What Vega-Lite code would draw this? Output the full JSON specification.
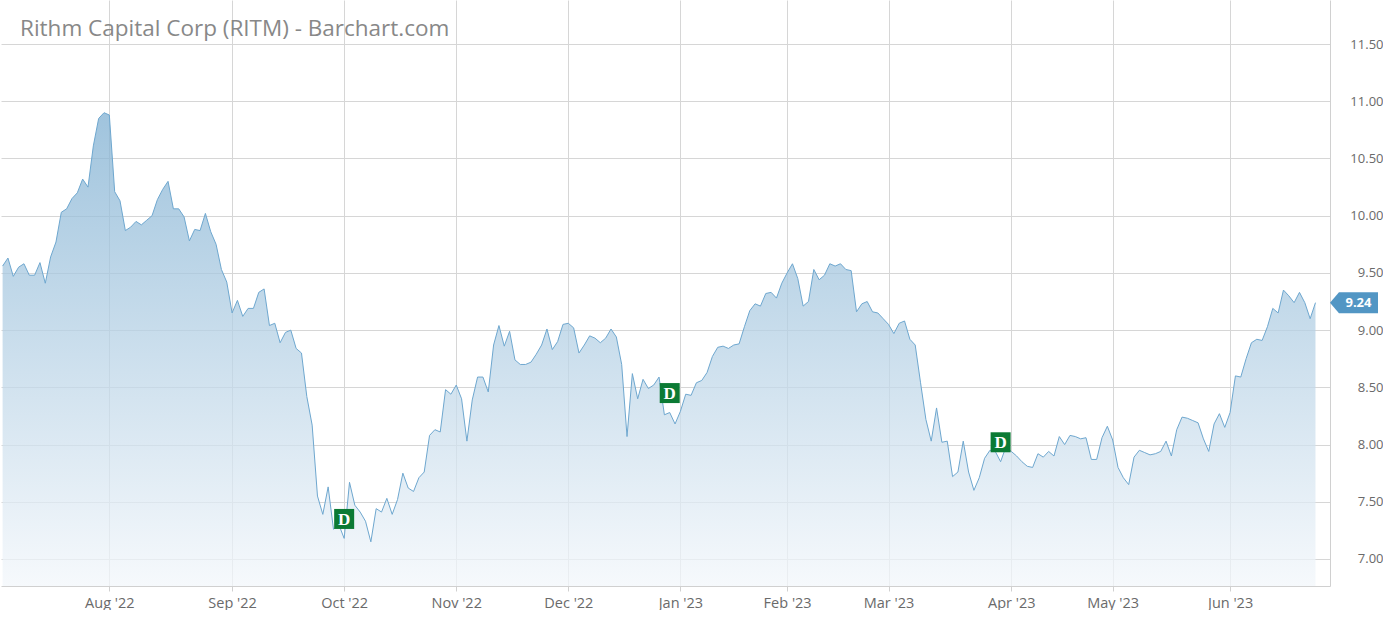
{
"$schema": "https://vega.github.io/schema/vega-lite/v6.json",
"width": 1329, "height": 586, "autosize": {"type": "pad"}, "padding": 0,
"background": "white",
"config": {"view": {"stroke": null}, "font": "Open Sans"},
"title": {"text": "Rithm Capital Corp (RITM) - Barchart.com", "anchor": "start", "frame": "group", "fontSize": 22.5, "fontWeight": "normal", "color": "#888888", "font": "Open Sans", "baseline": "alphabetic", "offset": 0, "dx": 19, "dy": 58},
"datasets": {
"px": [
{"i":0,"close":9.56},{"i":1,"close":9.63},{"i":2,"close":9.47},{"i":3,"close":9.55},{"i":4,"close":9.58},{"i":5,"close":9.48},{"i":6,"close":9.48},{"i":7,"close":9.59},{"i":8,"close":9.41},{"i":9,"close":9.64},
{"i":10,"close":9.77},{"i":11,"close":10.03},{"i":12,"close":10.06},{"i":13,"close":10.15},{"i":14,"close":10.20},{"i":15,"close":10.32},{"i":16,"close":10.25},{"i":17,"close":10.61},{"i":18,"close":10.85},{"i":19,"close":10.90},
{"i":20,"close":10.88},{"i":21,"close":10.21},{"i":22,"close":10.13},{"i":23,"close":9.87},{"i":24,"close":9.90},{"i":25,"close":9.95},{"i":26,"close":9.92},{"i":27,"close":9.96},{"i":28,"close":10.00},{"i":29,"close":10.14},
{"i":30,"close":10.23},{"i":31,"close":10.30},{"i":32,"close":10.06},{"i":33,"close":10.06},{"i":34,"close":9.99},{"i":35,"close":9.78},{"i":36,"close":9.88},{"i":37,"close":9.87},{"i":38,"close":10.02},{"i":39,"close":9.86},
{"i":40,"close":9.75},{"i":41,"close":9.53},{"i":42,"close":9.42},{"i":43,"close":9.15},{"i":44,"close":9.26},{"i":45,"close":9.12},{"i":46,"close":9.19},{"i":47,"close":9.19},{"i":48,"close":9.33},{"i":49,"close":9.36},
{"i":50,"close":9.04},{"i":51,"close":9.06},{"i":52,"close":8.89},{"i":53,"close":8.98},{"i":54,"close":9.00},{"i":55,"close":8.84},{"i":56,"close":8.80},{"i":57,"close":8.42},{"i":58,"close":8.17},{"i":59,"close":7.55},
{"i":60,"close":7.39},{"i":61,"close":7.63},{"i":62,"close":7.26},{"i":63,"close":7.30},{"i":64,"close":7.18},{"i":65,"close":7.67},{"i":66,"close":7.47},{"i":67,"close":7.41},{"i":68,"close":7.33},{"i":69,"close":7.15},
{"i":70,"close":7.44},{"i":71,"close":7.41},{"i":72,"close":7.53},{"i":73,"close":7.39},{"i":74,"close":7.52},{"i":75,"close":7.75},{"i":76,"close":7.62},{"i":77,"close":7.59},{"i":78,"close":7.71},{"i":79,"close":7.76},
{"i":80,"close":8.08},{"i":81,"close":8.13},{"i":82,"close":8.11},{"i":83,"close":8.48},{"i":84,"close":8.44},{"i":85,"close":8.52},{"i":86,"close":8.40},{"i":87,"close":8.03},{"i":88,"close":8.39},{"i":89,"close":8.59},
{"i":90,"close":8.59},{"i":91,"close":8.46},{"i":92,"close":8.87},{"i":93,"close":9.04},{"i":94,"close":8.86},{"i":95,"close":8.99},{"i":96,"close":8.74},{"i":97,"close":8.70},{"i":98,"close":8.70},{"i":99,"close":8.72},
{"i":100,"close":8.79},{"i":101,"close":8.87},{"i":102,"close":9.01},{"i":103,"close":8.83},{"i":104,"close":8.90},{"i":105,"close":9.05},{"i":106,"close":9.06},{"i":107,"close":9.02},{"i":108,"close":8.80},{"i":109,"close":8.87},
{"i":110,"close":8.95},{"i":111,"close":8.93},{"i":112,"close":8.89},{"i":113,"close":8.93},{"i":114,"close":9.01},{"i":115,"close":8.94},{"i":116,"close":8.70},{"i":117,"close":8.07},{"i":118,"close":8.62},{"i":119,"close":8.40},
{"i":120,"close":8.57},{"i":121,"close":8.49},{"i":122,"close":8.52},{"i":123,"close":8.59},{"i":124,"close":8.26},{"i":125,"close":8.28},{"i":126,"close":8.18},{"i":127,"close":8.29},{"i":128,"close":8.44},{"i":129,"close":8.43},
{"i":130,"close":8.54},{"i":131,"close":8.56},{"i":132,"close":8.63},{"i":133,"close":8.77},{"i":134,"close":8.85},{"i":135,"close":8.86},{"i":136,"close":8.84},{"i":137,"close":8.87},{"i":138,"close":8.88},{"i":139,"close":9.03},
{"i":140,"close":9.17},{"i":141,"close":9.23},{"i":142,"close":9.21},{"i":143,"close":9.32},{"i":144,"close":9.33},{"i":145,"close":9.28},{"i":146,"close":9.41},{"i":147,"close":9.50},{"i":148,"close":9.58},{"i":149,"close":9.45},
{"i":150,"close":9.21},{"i":151,"close":9.25},{"i":152,"close":9.53},{"i":153,"close":9.44},{"i":154,"close":9.48},{"i":155,"close":9.58},{"i":156,"close":9.56},{"i":157,"close":9.58},{"i":158,"close":9.53},{"i":159,"close":9.52},
{"i":160,"close":9.16},{"i":161,"close":9.23},{"i":162,"close":9.25},{"i":163,"close":9.16},{"i":164,"close":9.15},{"i":165,"close":9.10},{"i":166,"close":9.05},{"i":167,"close":8.97},{"i":168,"close":9.06},{"i":169,"close":9.08},
{"i":170,"close":8.92},{"i":171,"close":8.87},{"i":172,"close":8.54},{"i":173,"close":8.22},{"i":174,"close":8.03},{"i":175,"close":8.32},{"i":176,"close":8.02},{"i":177,"close":8.03},{"i":178,"close":7.72},{"i":179,"close":7.76},
{"i":180,"close":8.03},{"i":181,"close":7.76},{"i":182,"close":7.60},{"i":183,"close":7.71},{"i":184,"close":7.88},{"i":185,"close":7.95},{"i":186,"close":7.94},{"i":187,"close":7.85},{"i":188,"close":7.98},{"i":189,"close":7.94},
{"i":190,"close":7.90},{"i":191,"close":7.85},{"i":192,"close":7.81},{"i":193,"close":7.80},{"i":194,"close":7.92},{"i":195,"close":7.89},{"i":196,"close":7.94},{"i":197,"close":7.90},{"i":198,"close":8.07},{"i":199,"close":8.00},
{"i":200,"close":8.08},{"i":201,"close":8.07},{"i":202,"close":8.05},{"i":203,"close":8.06},{"i":204,"close":7.87},{"i":205,"close":7.87},{"i":206,"close":8.06},{"i":207,"close":8.16},{"i":208,"close":8.04},{"i":209,"close":7.80},
{"i":210,"close":7.71},{"i":211,"close":7.65},{"i":212,"close":7.89},{"i":213,"close":7.95},{"i":214,"close":7.93},{"i":215,"close":7.91},{"i":216,"close":7.92},{"i":217,"close":7.94},{"i":218,"close":8.03},{"i":219,"close":7.90},
{"i":220,"close":8.13},{"i":221,"close":8.24},{"i":222,"close":8.23},{"i":223,"close":8.21},{"i":224,"close":8.19},{"i":225,"close":8.05},{"i":226,"close":7.94},{"i":227,"close":8.18},{"i":228,"close":8.27},{"i":229,"close":8.15},
{"i":230,"close":8.28},{"i":231,"close":8.60},{"i":232,"close":8.59},{"i":233,"close":8.75},{"i":234,"close":8.89},{"i":235,"close":8.92},{"i":236,"close":8.91},{"i":237,"close":9.03},{"i":238,"close":9.19},{"i":239,"close":9.15},
{"i":240,"close":9.35},{"i":241,"close":9.30},{"i":242,"close":9.24},{"i":243,"close":9.33},{"i":244,"close":9.24},{"i":245,"close":9.10},{"i":246,"close":9.24}
],
"divs": [{"i":64,"close":7.35},{"i":125,"close":8.45},{"i":187,"close":8.02}]
},
"encoding": {
 "x": {"field": "i", "type": "quantitative",
   "scale": {"domain": [-0.3, 248.72], "nice": false, "zero": false},
   "axis": {"title": null, "values": [20,43,64,85,106,127,147,166,189,208,230],
     "labelExpr": "[\"Aug '22\",\"Sep '22\",\"Oct '22\",\"Nov '22\",\"Dec '22\",\"Jan '23\",\"Feb '23\",\"Mar '23\",\"Apr '23\",\"May '23\",\"Jun '23\"][indexof([20,43,64,85,106,127,147,166,189,208,230], datum.value)]",
     "grid": true, "gridColor": "#d6d6d6", "gridWidth": 1, "domainColor": "#d0d0d0", "tickColor": "#d0d0d0", "tickSize": 5,
     "labelFontSize": 14.5, "labelColor": "#6a6a6a", "labelPadding": 5, "labelFont": "Open Sans", "labelFlush": false}},
 "y": {"field": "close", "type": "quantitative",
   "scale": {"domain": [6.764, 11.885], "nice": false, "zero": false},
   "axis": {"title": null, "orient": "right", "values": [7,7.5,8,8.5,9,9.5,10,10.5,11,11.5], "format": ".2f",
     "grid": true, "gridColor": "#d6d6d6", "domainColor": "#d0d0d0", "ticks": false, "tickSize": 0,
     "labelAlign": "right", "labelBaseline": "middle", "labelPadding": 53, "labelFontSize": 13, "labelColor": "#6a6a6a", "labelFont": "Open Sans"}}
},
"layer": [
 {"data": {"name": "px"},
  "mark": {"type": "area", "opacity": 1, "fillOpacity": 0.75, "fill": {"gradient": "linear", "x1": 0, "y1": 0, "x2": 0, "y2": 1,
     "stops": [{"offset": 0, "color": "#80b0d2"}, {"offset": 1, "color": "#f3f7fb"}]}},
  "encoding": {"y2": {"datum": 6.764}}},
 {"data": {"name": "px"},
  "mark": {"type": "line", "color": "#6ea7cf", "strokeWidth": 1}},
 {"data": {"name": "divs"},
  "mark": {"type": "point", "shape": "square", "filled": true, "size": 400, "color": "#0b7a34", "opacity": 1}},
 {"data": {"name": "divs"},
  "mark": {"type": "text", "text": "D", "font": "Liberation Serif", "fontWeight": "bold", "fontSize": 17, "color": "white", "baseline": "middle", "align": "center", "dy": 1}},
 {"data": {"name": "px"}, "transform": [{"filter": "datum.i == 246"}],
  "mark": {"type": "point", "shape": "M0,0L0.3,-0.35L1.6,-0.35L1.6,0.35L0.3,0.35Z", "size": 3600, "filled": true, "color": "#5296c4", "opacity": 1, "xOffset": 14.5}},
 {"data": {"name": "px"}, "transform": [{"filter": "datum.i == 246"}],
  "mark": {"type": "text", "font": "Open Sans", "fontWeight": "bold", "fontSize": 13, "color": "white", "baseline": "middle", "align": "center", "xOffset": 43},
  "encoding": {"text": {"field": "close", "type": "quantitative", "format": ".2f"}}}
]
}
